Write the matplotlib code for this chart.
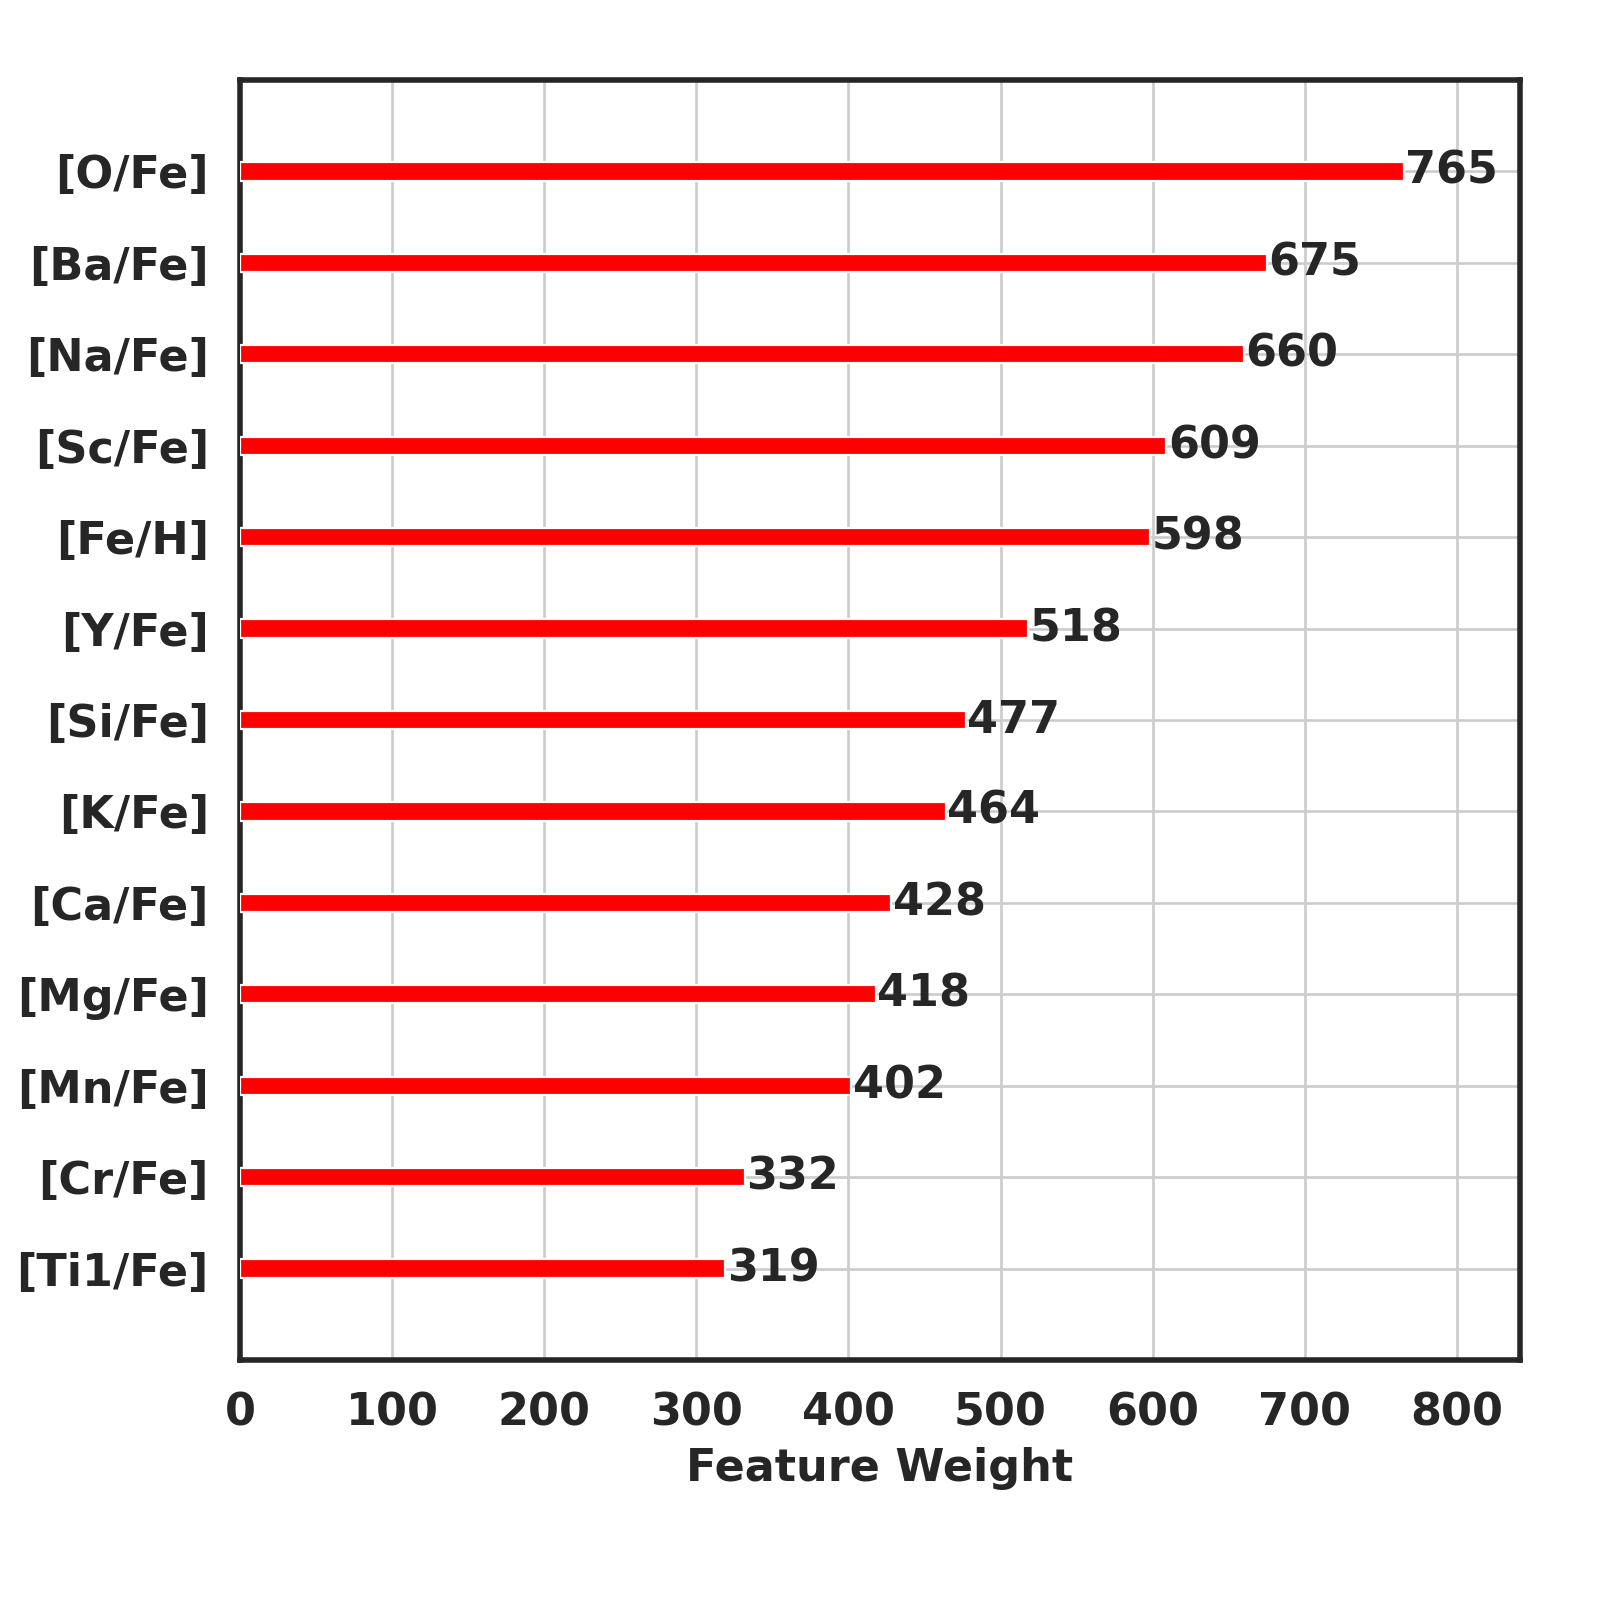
import matplotlib
matplotlib.use("Agg")
import matplotlib.pyplot as plt

features = ["[Ti1/Fe]", "[Cr/Fe]", "[Mn/Fe]", "[Mg/Fe]", "[Ca/Fe]", "[K/Fe]",
            "[Si/Fe]", "[Y/Fe]", "[Fe/H]", "[Sc/Fe]", "[Na/Fe]", "[Ba/Fe]", "[O/Fe]"]
weights = [319, 332, 402, 418, 428, 464, 477, 518, 598, 609, 660, 675, 765]

dark = "#262626"
plt.rcParams["font.family"] = ["DejaVu Sans"]
plt.rcParams["font.weight"] = "bold"

fig = plt.figure(figsize=(10, 10), dpi=160)
ax = fig.add_axes([0.150, 0.15, 0.800, 0.80])

ylocs = list(range(len(features)))
ax.barh(ylocs, weights, height=0.2, color="#ff0000", edgecolor="white", linewidth=1, zorder=3)
for y, v in zip(ylocs, weights):
    ax.text(v + 1, y, str(v), va="center", ha="left", fontsize=20, fontweight="bold", color=dark, zorder=4)

ax.set_yticks(ylocs)
ax.set_yticklabels(features)
ax.set_xlim(0, max(weights) * 1.1)
ax.set_ylim(-1, len(features))
ax.set_xticks(range(0, 900, 100))
ax.grid(True, color="#cccccc", linewidth=1.2, zorder=0)
ax.set_axisbelow(True)
ax.tick_params(axis="both", labelsize=20, colors=dark, length=0, pad=14)
for lab in ax.get_xticklabels() + ax.get_yticklabels():
    lab.set_fontweight("bold")
ax.set_xlabel("Feature Weight", fontsize=20, fontweight="bold", color=dark, labelpad=6)
for s in ax.spines.values():
    s.set_color(dark)
    s.set_linewidth(2.5)

fig.savefig("out.png", dpi=160, facecolor="white")
